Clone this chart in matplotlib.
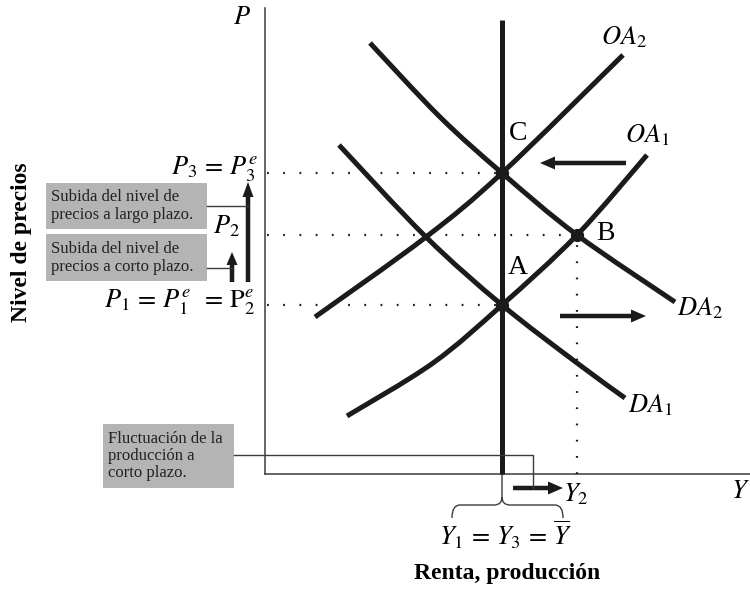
import matplotlib.pyplot as plt
from matplotlib.path import Path
from matplotlib.patches import PathPatch, Rectangle

plt.rcParams["font.family"] = ["Liberation Serif", "DejaVu Serif"]
plt.rcParams["mathtext.fontset"] = "stix"

# -------------------------------------------------------------------------
# Diagram values (origin at the crossing of the axes)
# -------------------------------------------------------------------------

Y1 = 237          # long-run output (Y1 = Y3 = Ybar)
Y2 = 312          # short-run output after the demand shock
P1 = 169
P2 = 239
P3 = 301
X_MAX = 485
Y_MAX = 466

da1_x = [74, 161, 237, 312, 360]
da1_y = [329, 237, 169, 111, 76]
da2_x = [105, 175, 237, 312, 410]
da2_y = [431, 357, 301, 239, 172]
oa1_x = [82, 168, 237, 312, 382]
oa1_y = [58, 111, 169, 239, 319]
oa2_x = [50, 161, 237, 358]
oa2_y = [157, 237, 301, 419]

eq_x = [Y1, Y2, Y1]
eq_y = [P1, P2, P3]

DARK = "#1c1a1b"
GREY_BOX = "#b4b4b4"
LINE = "#3c3c3c"


def smooth_curve(xs, ys):
    # Catmull-Rom through the read points, drawn as cubic Bezier segments
    pts = list(zip(xs, ys))
    verts = [pts[0]]
    codes = [Path.MOVETO]
    for i in range(len(pts) - 1):
        p0 = pts[max(i - 1, 0)]
        p1 = pts[i]
        p2 = pts[i + 1]
        p3 = pts[min(i + 2, len(pts) - 1)]
        c1 = (p1[0] + (p2[0] - p0[0]) / 6, p1[1] + (p2[1] - p0[1]) / 6)
        c2 = (p2[0] - (p3[0] - p1[0]) / 6, p2[1] - (p3[1] - p1[1]) / 6)
        verts += [c1, c2, p2]
        codes += [Path.CURVE4] * 3
    return Path(verts, codes)


def arrow(ax, x0, y0, x1, y1, w=4.5, hw=13, hl=15):
    ax.arrow(x0, y0, x1 - x0, y1 - y0, width=w, head_width=hw,
             head_length=hl, length_includes_head=True,
             color=DARK, lw=0)


def main():
    fig = plt.figure(figsize=(7.5, 5.9), dpi=100)
    ax = fig.add_axes([0, 0, 1, 1])
    ax.set_xlim(-265, 485)
    ax.set_ylim(-116, 474)
    ax.axis("off")

    # axes of the diagram
    ax.plot([0, 0], [0, Y_MAX], color=LINE, lw=1.1)
    ax.plot([0, X_MAX], [0, 0], color=LINE, lw=1.1)

    # dotted guides
    dot = dict(color=DARK, lw=1.6, linestyle=(0, (0.8, 6.5)))
    ax.plot([2, Y1], [P3, P3], **dot)
    ax.plot([2, Y2], [P2, P2], **dot)
    ax.plot([2, Y1], [P1, P1], **dot)
    ax.plot([Y2, Y2], [0, P2], **dot)

    # curves
    for xs, ys in [(da1_x, da1_y), (da2_x, da2_y),
                   (oa1_x, oa1_y), (oa2_x, oa2_y)]:
        ax.add_patch(PathPatch(smooth_curve(xs, ys), fill=False,
                               color=DARK, lw=3.6, capstyle="butt"))
    ax.plot([Y1, Y1], [0, 454], color=DARK, lw=3.6, solid_capstyle="butt")

    ax.plot(eq_x, eq_y, "o", color=DARK, ms=8.5)

    # equilibrium letters
    ax.text(253, 207, "A", fontsize=20, ha="center", va="center")
    ax.text(340, 240, "B", fontsize=20, ha="center", va="center")
    ax.text(253, 341, "C", fontsize=20, ha="center", va="center")

    # curve labels
    ax.text(359, 437, r"$OA_2$", fontsize=19, ha="center", va="center")
    ax.text(382, 339, r"$OA_1$", fontsize=19, ha="center", va="center")
    ax.text(435, 166, r"$DA_2$", fontsize=19, ha="center", va="center")
    ax.text(385, 69, r"$DA_1$", fontsize=19, ha="center", va="center")

    # shift arrows
    arrow(ax, 361, 311, 275, 311)
    arrow(ax, 295, 158, 381, 158)
    arrow(ax, 248, -14, 298, -14)

    # axis labels
    ax.text(-23, 456, r"$P$", fontsize=19, ha="center", va="center")
    ax.text(485, -18, r"$Y$", fontsize=19, ha="right", va="center")
    ax.text(298, -20, r"$Y_2$", fontsize=19, ha="left", va="center")
    ax.text(240, -61, r"$Y_1\,=\,Y_3\,=\,\overline{Y}$", fontsize=19,
            ha="center", va="center")
    ax.text(242, -99, "Renta, producción", fontsize=17, fontweight="bold",
            ha="center", va="center")
    ax.text(-243, 232, "Nivel de precios", fontsize=17, fontweight="bold",
            rotation=90, ha="center", va="center")

    # price labels
    ax.text(-7, 299, r"$P_3\,=\,P_3^{e}$", fontsize=19, ha="right",
            va="baseline")
    ax.text(-10, 166, r"$P_1\,=\,P_1^{e}\ \,=\,\mathrm{P}_2^{e}$",
            fontsize=19, ha="right", va="baseline")
    ax.text(-52, 241, r"$P_2$", fontsize=19, ha="left", va="baseline")

    # price rise arrows
    arrow(ax, -17, 192, -17, 292, w=4.5, hw=11, hl=15)
    arrow(ax, -33, 192, -33, 222, w=4.5, hw=11, hl=13)

    # note boxes
    ax.add_patch(Rectangle((-219, 245), 161, 46, color=GREY_BOX, lw=0))
    ax.add_patch(Rectangle((-219, 193), 161, 47, color=GREY_BOX, lw=0))
    ax.add_patch(Rectangle((-162, -14), 131, 64, color=GREY_BOX, lw=0))
    note = dict(fontsize=12, ha="left", va="center", linespacing=1.1,
                color="#222222")
    ax.text(-214, 268, "Subida del nivel de\nprecios a largo plazo.", **note)
    ax.text(-214, 216, "Subida del nivel de\nprecios a corto plazo.", **note)
    ax.text(-157, 18, "Fluctuación de la\nproducción a\ncorto plazo.",
            **note)

    # pointer lines from boxes
    ax.plot([-58, -17], [268, 268], color=LINE, lw=1.0)
    ax.plot([-58, -33], [206, 206], color=LINE, lw=1.0)
    ax.plot([-31, 268, 268], [19, 19, -14], color=LINE, lw=1.0)

    # brace under the long-run output
    left, right, top, mid, low = Y1 - 50, Y2 - 14, -23, -31, -44
    verts = [
        (Y1, 0), (Y1, top),
        (Y1, mid), (Y1 - 8, mid),
        (left + 8, mid),
        (left, mid), (left, low),
        (Y1, top),
        (Y1, mid), (Y1 + 8, mid),
        (right - 8, mid),
        (right, mid), (right, low),
    ]
    codes = [
        Path.MOVETO, Path.LINETO,
        Path.CURVE3, Path.CURVE3,
        Path.LINETO,
        Path.CURVE3, Path.CURVE3,
        Path.MOVETO,
        Path.CURVE3, Path.CURVE3,
        Path.LINETO,
        Path.CURVE3, Path.CURVE3,
    ]
    ax.add_patch(PathPatch(Path(verts, codes), fill=False, color=LINE,
                           lw=1.0))

    fig.savefig("out.png", dpi=100)


if __name__ == "__main__":
    main()
